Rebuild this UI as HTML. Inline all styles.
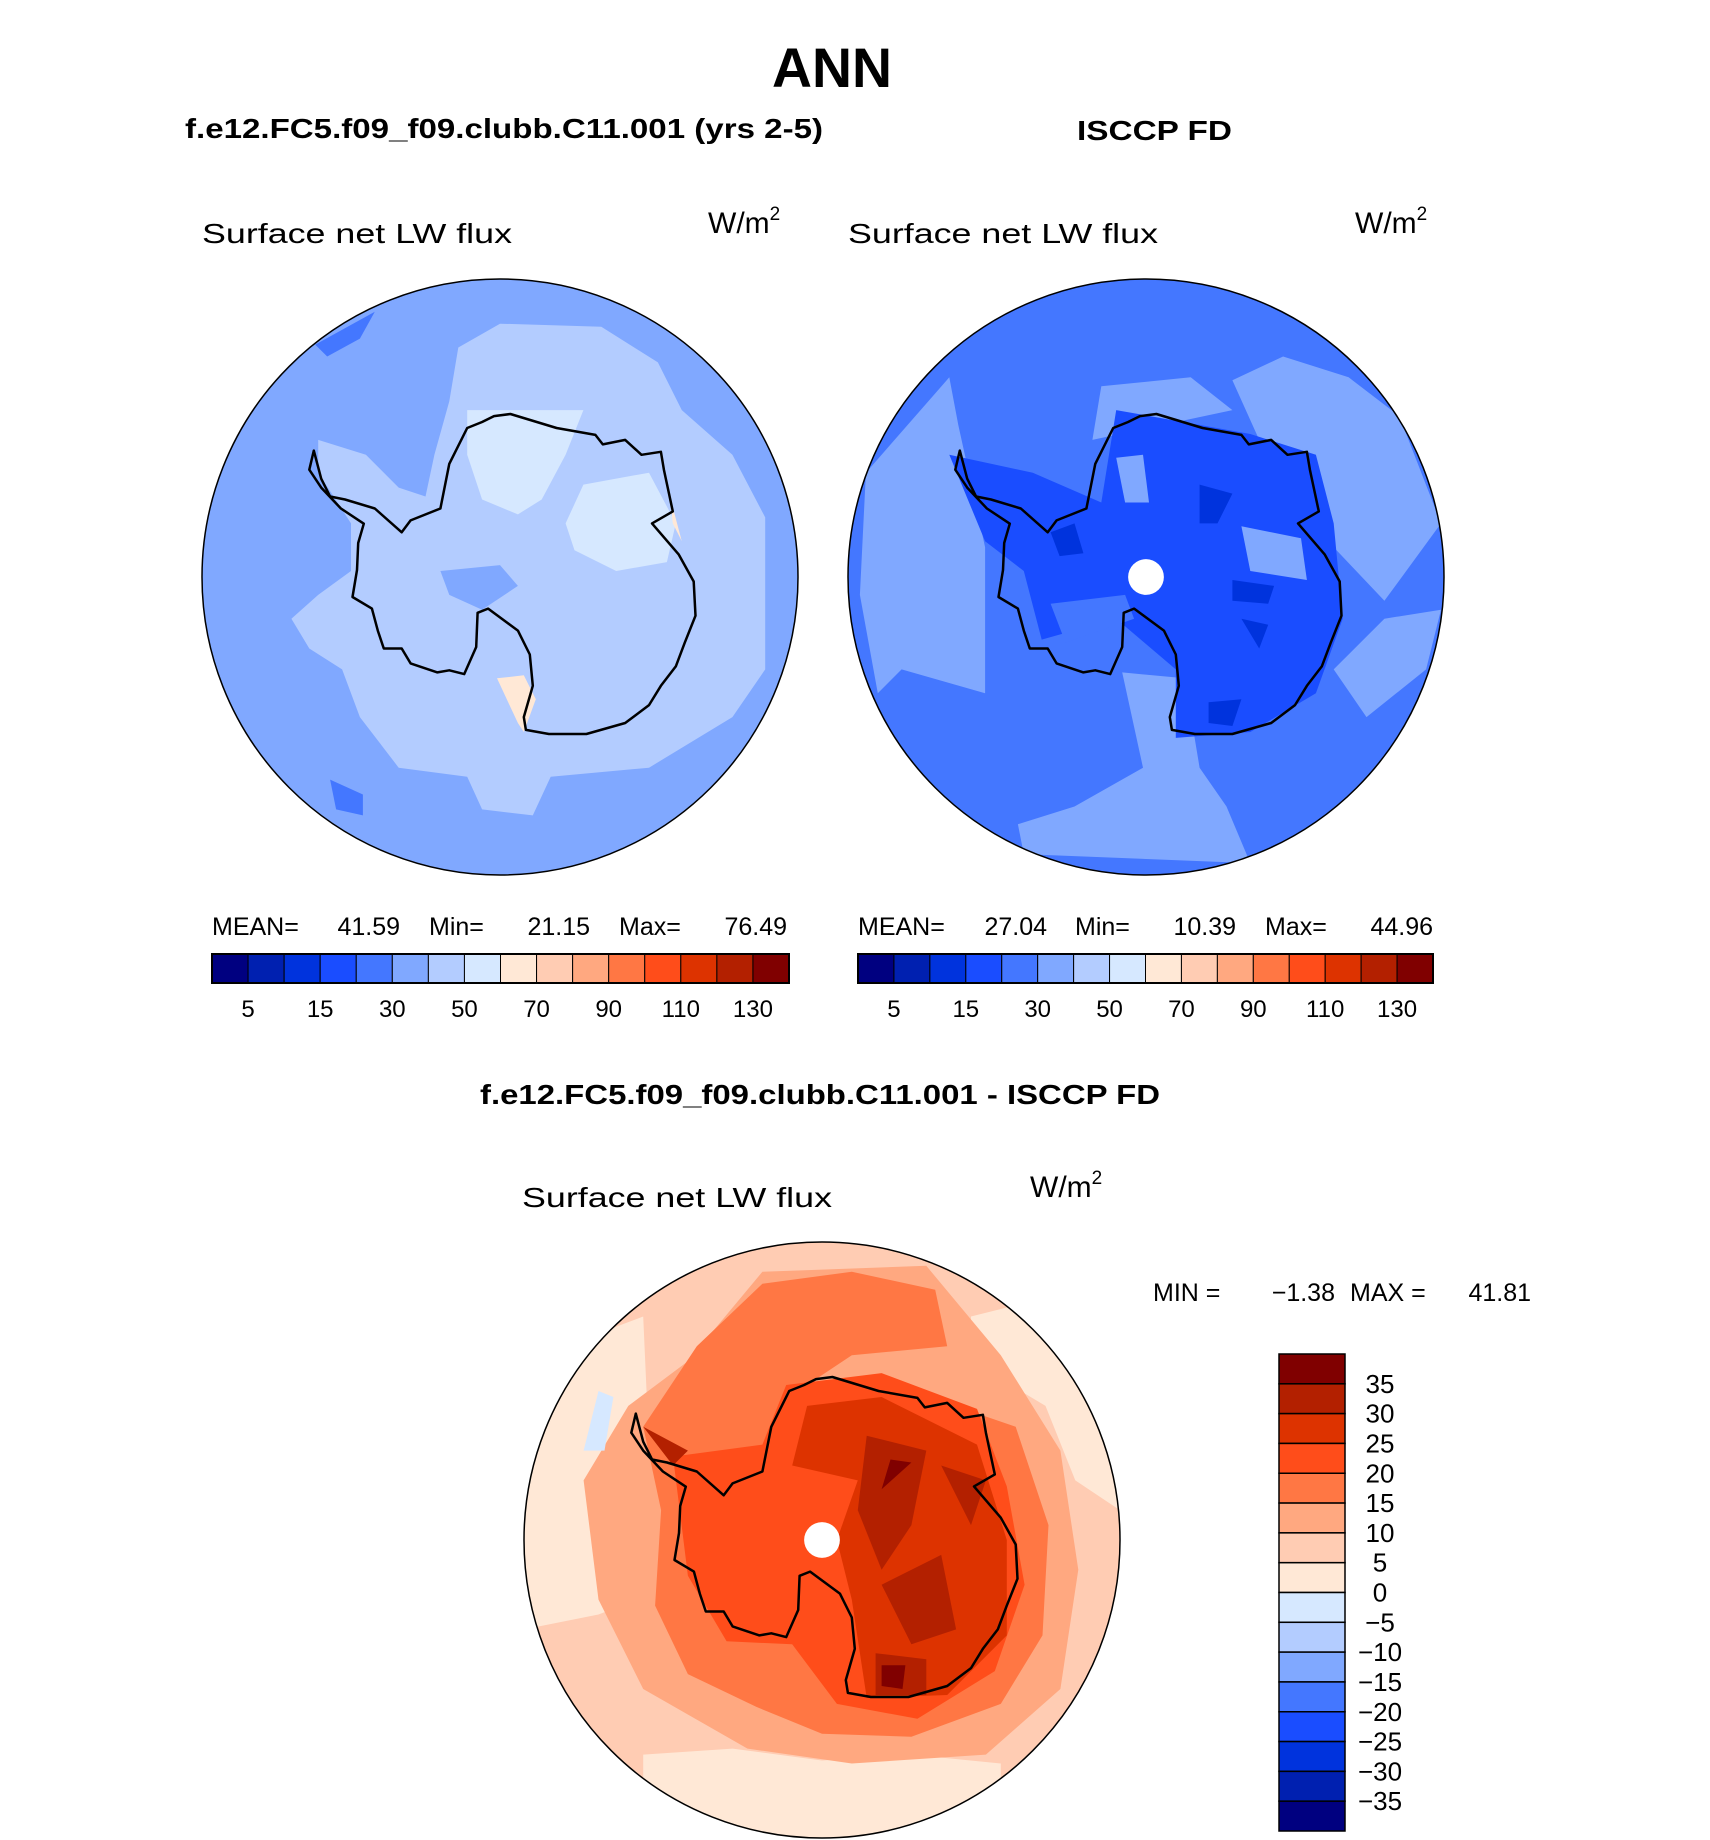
<!DOCTYPE html>
<html><head><meta charset="utf-8"><style>
html,body{margin:0;padding:0;background:#fff;}
svg{display:block;font-family:"Liberation Sans",sans-serif;}
</style></head><body>
<svg id="page" xmlns="http://www.w3.org/2000/svg" width="1710" height="1840" viewBox="0 0 1710 1840">
<rect width="1710" height="1840" fill="#fff"/>
<text x="832" y="87" text-anchor="middle" font-size="56" font-weight="bold" textLength="120" lengthAdjust="spacingAndGlyphs">ANN</text>
<text x="185" y="138" font-size="28" font-weight="bold" textLength="638" lengthAdjust="spacingAndGlyphs">f.e12.FC5.f09_f09.clubb.C11.001 (yrs 2-5)</text>
<text x="1077" y="140" font-size="28" font-weight="bold" textLength="155" lengthAdjust="spacingAndGlyphs">ISCCP FD</text>
<text x="480" y="1104" font-size="28" font-weight="bold" textLength="680" lengthAdjust="spacingAndGlyphs">f.e12.FC5.f09_f09.clubb.C11.001 - ISCCP FD</text>
<g id="maps"></g>
</svg>
<script>
// ---- colorbar data ----
const absColors = ["#000080","#0020b0","#0033dd","#1a4dff","#4477ff","#80a8ff","#b3ccff","#d6e8ff","#ffe8d6","#ffccb3","#ffa880","#ff7744","#ff4d1a","#dd3300","#b32000","#800000"];
const absTickLabels = ["5","15","30","50","70","90","110","130"];
const diffColors = ["#800000","#b32000","#dd3300","#ff4d1a","#ff7744","#ffa880","#ffccb3","#ffe8d6","#d6e8ff","#b3ccff","#80a8ff","#4477ff","#1a4dff","#0033dd","#0020b0","#000080"];
const diffTickLabels = ["35","30","25","20","15","10","5","0","\u22125","\u221210","\u221215","\u221220","\u221225","\u221230","\u221235"];
const modelStats = ["MEAN=","41.59","Min=","21.15","Max=","76.49"];
const obsStats = ["MEAN=","27.04","Min=","10.39","Max=","44.96"];
const diffStats = ["MIN =","\u22121.38","MAX =","41.81"];

// ---- coastline (unit coords) ----
const coast = [[-0.625,-0.424],[-0.6,-0.33],[-0.57,-0.27],[-0.52,-0.26],[-0.42,-0.23],[-0.33,-0.15],[-0.3,-0.19],[-0.2,-0.23],[-0.17,-0.38],[-0.11,-0.5],[-0.06,-0.52],[-0.02,-0.54],[0.035,-0.547],[0.19,-0.5],[0.32,-0.477],[0.345,-0.445],[0.42,-0.46],[0.475,-0.41],[0.54,-0.42],[0.55,-0.36],[0.58,-0.22],[0.51,-0.18],[0.6,-0.075],[0.65,0.015],[0.656,0.13],[0.62,0.22],[0.59,0.3],[0.54,0.365],[0.5,0.43],[0.42,0.49],[0.29,0.527],[0.164,0.527],[0.087,0.513],[0.08,0.47],[0.11,0.365],[0.1,0.26],[0.06,0.18],[-0.04,0.106],[-0.075,0.12],[-0.08,0.235],[-0.12,0.326],[-0.17,0.313],[-0.21,0.32],[-0.3,0.29],[-0.33,0.24],[-0.39,0.24],[-0.41,0.18],[-0.43,0.106],[-0.495,0.067],[-0.48,-0.023],[-0.476,-0.114],[-0.457,-0.179],[-0.534,-0.23],[-0.6,-0.3],[-0.64,-0.36]];

const leftFills = [
 ["#b3ccff",[[0,-0.85],[0.34,-0.84],[0.53,-0.72],[0.61,-0.56],[0.78,-0.41],[0.89,-0.2],[0.89,0.01],[0.89,0.31],[0.78,0.47],[0.5,0.64],[0.17,0.67],[0.11,0.8],[-0.06,0.78],[-0.11,0.67],[-0.34,0.64],[-0.47,0.47],[-0.53,0.31],[-0.64,0.24],[-0.7,0.14],[-0.61,0.06],[-0.5,-0.02],[-0.5,-0.18],[-0.61,-0.35],[-0.61,-0.46],[-0.45,-0.41],[-0.34,-0.3],[-0.25,-0.27],[-0.22,-0.41],[-0.17,-0.59],[-0.14,-0.77]]],
 ["#d6e8ff",[[-0.11,-0.56],[0.28,-0.56],[0.22,-0.41],[0.14,-0.26],[0.06,-0.21],[-0.06,-0.26],[-0.11,-0.41]]],
 ["#d6e8ff",[[0.28,-0.31],[0.5,-0.35],[0.59,-0.18],[0.56,-0.05],[0.39,-0.02],[0.25,-0.09],[0.22,-0.18]]],
 ["#80a8ff",[[-0.2,-0.02],[0,-0.04],[0.06,0.03],[-0.06,0.11],[-0.17,0.06]]],
 ["#4477ff",[[-0.57,0.68],[-0.46,0.73],[-0.46,0.8],[-0.55,0.78]]],
 ["#4477ff",[[-0.62,-0.78],[-0.42,-0.89],[-0.47,-0.8],[-0.58,-0.74]]],
 ["#ffe8d6",[[-0.01,0.34],[0.08,0.33],[0.12,0.41],[0.08,0.52],[0.06,0.49]]],
 ["#ffe8d6",[[0.57,-0.27],[0.61,-0.12],[0.58,-0.18]]]
];
const rightFills = [
 ["#80a8ff",[[-0.94,-0.35],[-0.66,-0.67],[-0.63,-0.51],[-0.54,-0.1],[-0.54,0.39],[-0.82,0.31],[-0.9,0.39],[-0.96,0.06]]],
 ["#80a8ff",[[-0.08,0.32],[0.13,0.34],[0.18,0.64],[0.27,0.77],[0.35,0.96],[-0.41,0.93],[-0.43,0.83],[-0.24,0.77],[-0.01,0.64]]],
 ["#80a8ff",[[0.29,-0.66],[0.46,-0.74],[0.68,-0.67],[0.85,-0.54],[0.99,-0.18],[0.8,0.08],[0.63,-0.1],[0.52,-0.41],[0.38,-0.46]]],
 ["#80a8ff",[[-0.15,-0.64],[0.15,-0.67],[0.29,-0.56],[-0.18,-0.46]]],
 ["#80a8ff",[[0.8,0.14],[0.99,0.11],[0.94,0.31],[0.74,0.47],[0.63,0.31]]],
 ["#1a4dff",[[-0.66,-0.41],[-0.38,-0.35],[-0.15,-0.25],[-0.1,-0.56],[0.35,-0.48],[0.57,-0.41],[0.63,-0.18],[0.66,0.14],[0.57,0.39],[0.35,0.52],[0.1,0.54],[0.1,0.31],[-0.1,0.14],[-0.35,0.21],[-0.41,-0.02],[-0.54,-0.12]]],
 ["#80a8ff",[[-0.1,-0.4],[-0.01,-0.41],[0.01,-0.25],[-0.07,-0.25]]],
 ["#80a8ff",[[0.32,-0.17],[0.52,-0.13],[0.54,0.01],[0.35,-0.02]]],
 ["#4477ff",[[-0.32,0.09],[-0.07,0.06],[-0.04,0.14],[-0.27,0.22]]],
 ["#0033dd",[[0.18,-0.31],[0.29,-0.28],[0.24,-0.18],[0.18,-0.18]]],
 ["#0033dd",[[-0.32,-0.15],[-0.24,-0.18],[-0.21,-0.08],[-0.29,-0.07]]],
 ["#0033dd",[[0.29,0.01],[0.43,0.03],[0.41,0.09],[0.29,0.08]]],
 ["#0033dd",[[0.21,0.42],[0.32,0.41],[0.29,0.5],[0.21,0.49]]],
 ["#0033dd",[[0.32,0.14],[0.41,0.16],[0.38,0.24]]]
];
const diffFills = [
 ["#ffe8d6",[[-1,-0.6],[-0.6,-0.75],[-0.58,-0.3],[-0.62,0.2],[-0.75,0.25],[-1,0.3]]],
 ["#ffe8d6",[[-0.6,0.72],[-0.3,0.7],[0,0.74],[0.3,0.72],[0.6,0.75],[0.6,1],[-0.6,1]]],
 ["#ffe8d6",[[0.5,-0.75],[0.7,-0.8],[1,-0.6],[1,-0.1],[0.85,-0.2],[0.75,-0.45],[0.5,-0.6]]],
 ["#ffa880",[[-0.45,-0.6],[-0.2,-0.9],[0.35,-0.92],[0.6,-0.62],[0.8,-0.3],[0.86,0.1],[0.8,0.5],[0.55,0.72],[0.1,0.75],[-0.25,0.7],[-0.6,0.5],[-0.75,0.2],[-0.8,-0.2],[-0.65,-0.45]]],
 ["#ff7744",[[-0.6,-0.38],[-0.42,-0.65],[-0.2,-0.86],[0.1,-0.9],[0.38,-0.84],[0.42,-0.65],[0.1,-0.62],[-0.05,-0.52],[0.3,-0.5],[0.65,-0.38],[0.76,-0.05],[0.74,0.32],[0.6,0.55],[0.3,0.66],[0,0.65],[-0.22,0.56],[-0.45,0.45],[-0.56,0.22],[-0.54,-0.1]]],
 ["#ff4d1a",[[-0.5,-0.28],[-0.2,-0.32],[-0.12,-0.52],[0.2,-0.56],[0.52,-0.44],[0.62,-0.18],[0.68,0.15],[0.58,0.44],[0.32,0.6],[0.05,0.55],[-0.1,0.35],[-0.32,0.34],[-0.45,0.12]]],
 ["#dd3300",[[-0.05,-0.45],[0.2,-0.48],[0.52,-0.32],[0.62,0],[0.62,0.32],[0.42,0.52],[0.15,0.53],[0.1,0.2],[0.05,0],[0.12,-0.2],[-0.1,-0.25]]],
 ["#b32000",[[0.15,-0.35],[0.35,-0.3],[0.3,-0.05],[0.2,0.1],[0.12,-0.1]]],
 ["#b32000",[[0.2,0.15],[0.4,0.05],[0.45,0.3],[0.3,0.35]]],
 ["#b32000",[[0.18,0.38],[0.35,0.4],[0.35,0.52],[0.18,0.52]]],
 ["#b32000",[[0.4,-0.25],[0.55,-0.2],[0.5,-0.05]]],
 ["#b32000",[[-0.6,-0.38],[-0.45,-0.3],[-0.5,-0.25]]],
 ["#800000",[[0.23,-0.27],[0.3,-0.26],[0.2,-0.17]]],
 ["#800000",[[0.2,0.42],[0.28,0.42],[0.27,0.5],[0.2,0.49]]],
 ["#d6e8ff",[[-0.75,-0.5],[-0.7,-0.48],[-0.73,-0.3],[-0.8,-0.3]]]
];

const NS = "http://www.w3.org/2000/svg";
const root = document.getElementById("maps");
function mk(tag, attrs, parent){ const e=document.createElementNS(NS,tag); for(const k in attrs) e.setAttribute(k,attrs[k]); (parent||root).appendChild(e); return e; }
function pts(list,cx,cy,r){ return list.map(p=>(cx+p[0]*r).toFixed(1)+","+(cy+p[1]*r).toFixed(1)).join(" "); }

function drawMap(id, cx, cy, r, base, fills, hole){
  const g = mk("g",{});
  
  
  const cp = mk("clipPath",{id:id+"-clip"},g);
  mk("circle",{cx:cx,cy:cy,r:r},cp);
  const inner = mk("g",{"clip-path":"url(#"+id+"-clip)"},g);
  const bg = mk("circle",{cx:cx,cy:cy,r:r,fill:base},inner);
  
  
  fills.forEach(f=>{
    const p = mk("polygon",{points:pts(f[1],cx,cy,r),fill:f[0]},inner);
    
    
  });
  const c = mk("polygon",{points:pts(coast,cx,cy,r),fill:"none",stroke:"#000","stroke-width":2.5,"stroke-linejoin":"round"},inner);
  
  
  if(hole){
    const h = mk("circle",{cx:cx,cy:cy,r:r*0.06,fill:"#fff"},inner);
    
    
  }
  const o = mk("circle",{cx:cx,cy:cy,r:r,fill:"none",stroke:"#000","stroke-width":1.5},g);
  
  
}

function label(x,y,txt,size,name,anchor,len){
  const a = {x:x,y:y,"font-size":size,fill:"#000"};
  if(anchor) a["text-anchor"]=anchor;
  if(len){a.textLength=len;a.lengthAdjust="spacingAndGlyphs";}
  const t = mk("text",a);
  t.textContent = txt;
  
  
  return t;
}
function unitLabel(x,y,name){
  const t = mk("text",{x:x,y:y,"font-size":30});
  
  
  t.textContent = "W/m";
  const s = mk("tspan",{dy:-13,"font-size":19},t);
  s.textContent = "2";
}

function hBar(x0,y0,w,h,colors,ticks,name){
  const bw = w/colors.length;
  colors.forEach((c,i)=>{
    const r = mk("rect",{x:x0+i*bw,y:y0,width:bw,height:h,fill:c,stroke:"#000","stroke-width":1});
    
    
  });
  const f = mk("rect",{x:x0,y:y0,width:w,height:h,fill:"none",stroke:"#000","stroke-width":2});
  
  
  ticks.forEach((t,i)=>{ label(x0+(2*i+1)*bw, y0+63, t, 24, name+'-tick-label', "middle"); });
}
function vBar(x0,y0,w,h,colors,ticks,name){
  const bh = h/colors.length;
  colors.forEach((c,i)=>{
    const r = mk("rect",{x:x0,y:y0+i*bh,width:w,height:bh,fill:c,stroke:"#000","stroke-width":1.5});
    
    
  });
  ticks.forEach((t,i)=>{ label(x0+101, y0+(i+1)*bh+9, t, 26, name+'-tick-label', "middle"); });
}
// stats: labels left-anchored at lx, values right-anchored at vx
function stats(arr,lx,vx,y,name){
  for(let i=0;i<arr.length;i+=2){
    label(lx[i/2],y,arr[i],25,name+'-label');
    label(vx[i/2],y,arr[i+1],25,name+'-value',"end");
  }
}

// panels
label(202,243,"Surface net LW flux",28,"model-variable-title",null,310);
unitLabel(708,233,"model-units");
label(848,243,"Surface net LW flux",28,"obs-variable-title",null,310);
unitLabel(1355,233,"obs-units");
label(522,1207,"Surface net LW flux",28,"diff-variable-title",null,310);
unitLabel(1030,1197,"diff-units");

drawMap("model-map",500,577,298,"#80a8ff",leftFills,false);
drawMap("obs-map",1146,577,298,"#4477ff",rightFills,true);
drawMap("diff-map",822,1540,298,"#ffccb3",diffFills,true);

stats(modelStats,[212,429,619],[400,590,787],935,"model-stats");
stats(obsStats,[858,1075,1265],[1047,1236,1433],935,"obs-stats");
hBar(212,954,577,29,absColors,absTickLabels,"model-colorbar");
hBar(858,954,575,29,absColors,absTickLabels,"obs-colorbar");

stats(diffStats,[1153,1350],[1335,1531],1301,"diff-min-max");
vBar(1279,1354,66,477,diffColors,diffTickLabels,"diff-colorbar");
</script>
</body></html>
